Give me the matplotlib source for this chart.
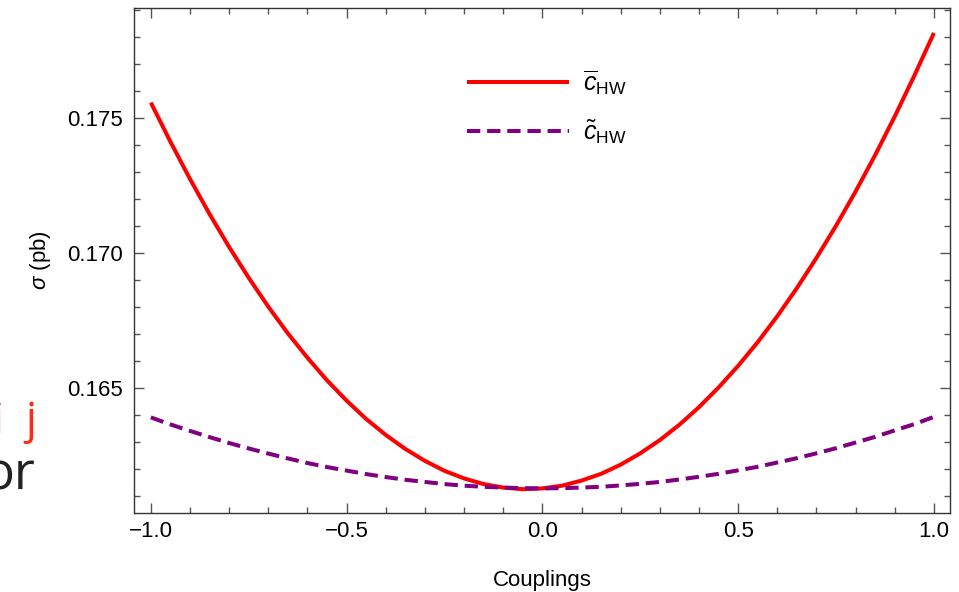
import numpy as np
import matplotlib.pyplot as plt
from matplotlib.ticker import MultipleLocator, FuncFormatter

# coupling values and cross sections (pb)
couplings = [-1.00, -0.95, -0.90, -0.85, -0.80, -0.75, -0.70, -0.65, -0.60,
             -0.55, -0.50, -0.45, -0.40, -0.35, -0.30, -0.25, -0.20, -0.15,
             -0.10, -0.05, 0.00, 0.05, 0.10, 0.15, 0.20, 0.25, 0.30, 0.35,
             0.40, 0.45, 0.50, 0.55, 0.60, 0.65, 0.70, 0.75, 0.80, 0.85,
             0.90, 0.95, 1.00]
sigma_cbar = [0.17556, 0.17411, 0.17273, 0.17143, 0.17021, 0.16907, 0.16800,
              0.16701, 0.16611, 0.16527, 0.16452, 0.16384, 0.16325, 0.16273,
              0.16229, 0.16192, 0.16164, 0.16143, 0.16130, 0.16124, 0.16127,
              0.16137, 0.16156, 0.16181, 0.16215, 0.16257, 0.16306, 0.16363,
              0.16428, 0.16501, 0.16581, 0.16669, 0.16765, 0.16869, 0.16981,
              0.17100, 0.17227, 0.17362, 0.17505, 0.17656, 0.17814]
sigma_ctilde = [0.16390, 0.16364, 0.16340, 0.16317, 0.16295, 0.16275, 0.16256,
                0.16238, 0.16221, 0.16206, 0.16193, 0.16180, 0.16169, 0.16159,
                0.16151, 0.16143, 0.16137, 0.16133, 0.16130, 0.16128, 0.16127,
                0.16128, 0.16130, 0.16133, 0.16138, 0.16144, 0.16151, 0.16160,
                0.16170, 0.16181, 0.16194, 0.16207, 0.16223, 0.16239, 0.16257,
                0.16276, 0.16297, 0.16318, 0.16342, 0.16365, 0.16392]
labels = [r"$\overline{c}_{\mathrm{HW}}$", r"$\tilde{c}_{\mathrm{HW}}$"]

plt.rcParams["font.family"] = ["Liberation Sans", "DejaVu Sans"]
plt.rcParams["mathtext.fontset"] = "custom"
plt.rcParams["mathtext.rm"] = "Liberation Sans"
plt.rcParams["mathtext.it"] = "Liberation Sans:italic"

fig = plt.figure(figsize=(9.59, 5.92), dpi=100)
ax = fig.add_axes([134 / 959, 79 / 592, 816 / 959, 505 / 592])

ax.plot(couplings, sigma_cbar, color="#ff0000", lw=2.9, label=labels[0],
        solid_capstyle="butt", solid_joinstyle="round")
ax.plot(couplings, sigma_ctilde, color="#800080", lw=2.9, label=labels[1],
        dashes=(3.3, 1.7), dash_capstyle="butt", dash_joinstyle="round")

ax.set_xlim(-1.043, 1.041)
ax.set_ylim(0.160359, 0.179063)


def fmt(digits):
    return FuncFormatter(lambda v, pos: f"{v:.{digits}f}".replace("-", "\u2212"))


ax.xaxis.set_major_locator(MultipleLocator(0.5))
ax.xaxis.set_minor_locator(MultipleLocator(0.1))
ax.yaxis.set_major_locator(MultipleLocator(0.005))
ax.yaxis.set_minor_locator(MultipleLocator(0.001))
ax.xaxis.set_major_formatter(fmt(1))
ax.yaxis.set_major_formatter(fmt(3))

ax.tick_params(which="both", direction="in", top=True, right=True,
               color="#555555", width=1.0)
ax.tick_params(which="major", length=7, labelsize=16)
ax.tick_params(which="minor", length=4.5)
ax.tick_params(axis="y", which="major", pad=8)
ax.tick_params(axis="x", which="major", pad=6)
for sp in ax.spines.values():
    sp.set_color("#333333")
    sp.set_linewidth(1.0)

ax.set_xlabel("Couplings", fontsize=16, labelpad=20)
ax.set_ylabel(r"$\sigma$ (pb)", fontsize=16, labelpad=10)

leg = ax.legend(loc="upper left", bbox_to_anchor=(444 / 959, 1 - 46 / 592),
                bbox_transform=fig.transFigure, frameon=False, fontsize=18,
                handlelength=4.1, handletextpad=0.55, labelspacing=0.82)

# leftover slide text at the left edge
slide_font = ["Open Sans", "DejaVu Sans"]
fig.text(4 / 959, 1 - 433 / 592, "i", color="#ff2a14", fontsize=31,
         family=slide_font, ha="right", va="baseline")
fig.text(36 / 959, 1 - 433 / 592, "j", color="#ff2a14", fontsize=31,
         family=slide_font, ha="right", va="baseline")
fig.text(-0.018, 1 - 490 / 592, "or", color="#222222", fontsize=37,
         family=slide_font, ha="left", va="baseline")

fig.savefig("out.png", dpi=100)
